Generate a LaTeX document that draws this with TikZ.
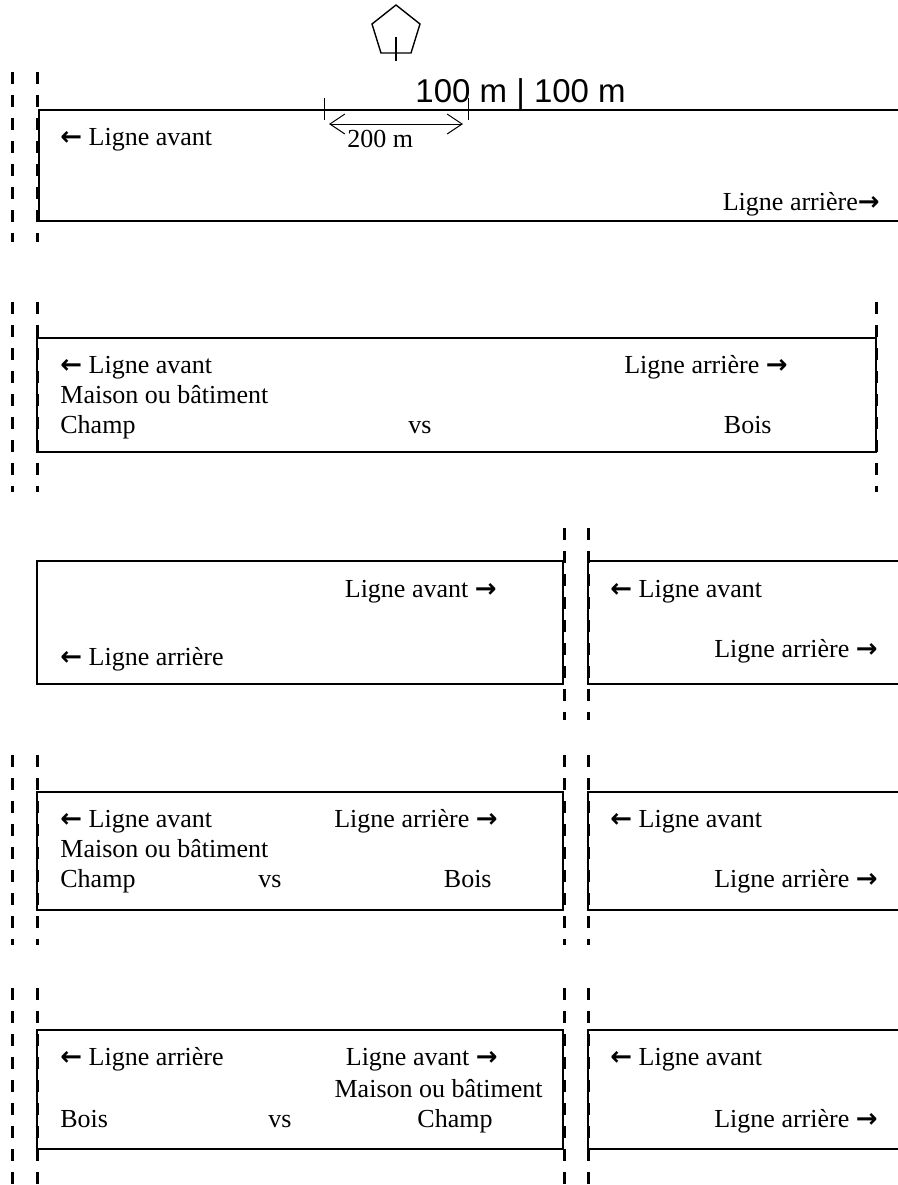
\documentclass[tikz,border=0pt]{standalone}
\usepackage{fontspec}
\setmainfont{Liberation Serif}
\newfontfamily\flechefont{DejaVu Sans}
\newfontfamily\echellefont{Liberation Sans}
\usepackage{tikz}
\usetikzlibrary{arrows.meta,positioning}
\newcommand{\gauche}{{\flechefont\bfseries ←}}
\newcommand{\droite}{{\flechefont\bfseries →}}

\begin{document}
\begin{tikzpicture}[x=0.5pt,y=-0.5pt,
            lab/.style={inner sep=0,font=\fontsize{13}{15}\selectfont},
            labw/.style={lab,anchor=base west},
            labe/.style={lab,anchor=base east},
            zone/.style={draw,line width=1pt},
            limite/.style={draw,line width=1.5pt,dash pattern=on 6pt off 5.5pt},
            cote/.style={draw,line width=0.5pt}
          ]
          \useasboundingbox (0,0) rectangle (898,1185);

          %tireur
          \draw[cote,line width=0.7pt] (396,5) -- (420,24) -- (411,53) -- (381,53) -- (372,24) -- cycle;
          \draw[cote,line width=0.7pt] (396,37) -- (396,61);

          %zone 1
          \draw[zone] (898,110) -- (39,110) -- (39,221) -- (898,221);
          \draw[limite] (12,72) -- (12,242) (37,72) -- (37,242);
          \draw[cote] (324,98) -- (324,120) (468,98) -- (468,120);
          \coordinate (c1) at (329,124);
          \coordinate (c2) at (463,124);
          \path[cote,{Straight Barb[length=7.5pt,width=10pt]}-{Straight Barb[length=7.5pt,width=10pt]}] (c1) -- (c2);
          \node[labw] (d200) at (347,147) {200 m};
          \node[inner sep=0,anchor=base west,font=\echellefont\fontsize{16.5}{18}\selectfont] (d100) at (415,102) {100 m | 100 m};
          \node[labw] (z1av) at (60,145) {\gauche\ Ligne avant};
          \node[labe] (z1ar) at (880,210) {Ligne arrière\droite};

          %zone 2
          \draw[zone] (37,338) rectangle (876,452);
          \draw[limite] (12,302) -- (12,492) (37,302) -- (37,492) (876,302) -- (876,492);
          \node[labw] (z2av) at (60,373) {\gauche\ Ligne avant};
          \node[labe] (z2ar) at (788,373) {Ligne arrière \droite};
          \node[labw] (z2mb) at (60,403) {Maison ou bâtiment};
          \node[labw] (z2ch) at (60,433) {Champ};
          \node[lab,anchor=base] (z2vs) at (420,433) {vs};
          \node[labe] (z2bo) at (772,433) {Bois};

          %zone 3
          \draw[zone] (37,561) rectangle (563,684);
          \draw[zone] (898,561) -- (588,561) -- (588,684) -- (898,684);
          \draw[limite] (564,528) -- (564,720) (588,528) -- (588,720);
          \node[labe] (z3av) at (497,597) {Ligne avant \droite};
          \node[labw] (z3ar) at (60,665) {\gauche\ Ligne arrière};
          \node[labw] (z3bav) at (610,597) {\gauche\ Ligne avant};
          \node[labe] (z3bar) at (878,657) {Ligne arrière \droite};

          %zone 4
          \draw[zone] (37,792) rectangle (563,910);
          \draw[zone] (898,792) -- (588,792) -- (588,910) -- (898,910);
          \draw[limite] (12,755) -- (12,945) (37,755) -- (37,945) (564,755) -- (564,945) (588,755) -- (588,945);
          \node[labw] (z4av) at (60,827) {\gauche\ Ligne avant};
          \node[labe] (z4ar) at (498,827) {Ligne arrière \droite};
          \node[labw] (z4mb) at (60,857) {Maison ou bâtiment};
          \node[labw] (z4ch) at (60,887) {Champ};
          \node[lab,anchor=base] (z4vs) at (270,887) {vs};
          \node[labe] (z4bo) at (492,887) {Bois};
          \node[labw] (z4bav) at (610,827) {\gauche\ Ligne avant};
          \node[labe] (z4bar) at (878,887) {Ligne arrière \droite};

          %zone 5
          \draw[zone] (37,1030) rectangle (563,1149);
          \draw[zone] (898,1030) -- (588,1030) -- (588,1149) -- (898,1149);
          \draw[limite] (12,988) -- (12,1185) (37,988) -- (37,1185) (564,988) -- (564,1185) (588,988) -- (588,1185);
          \node[labw] (z5ar) at (60,1065) {\gauche\ Ligne arrière};
          \node[labe] (z5av) at (498,1065) {Ligne avant \droite};
          \node[labe] (z5mb) at (543,1097) {Maison ou bâtiment};
          \node[labe] (z5ch) at (493,1127) {Champ};
          \node[labw] (z5bo) at (60,1127) {Bois};
          \node[lab,anchor=base] (z5vs) at (280,1127) {vs};
          \node[labw] (z5bav) at (610,1065) {\gauche\ Ligne avant};
          \node[labe] (z5bar) at (878,1127) {Ligne arrière \droite};

      \end{tikzpicture}
\end{document}
